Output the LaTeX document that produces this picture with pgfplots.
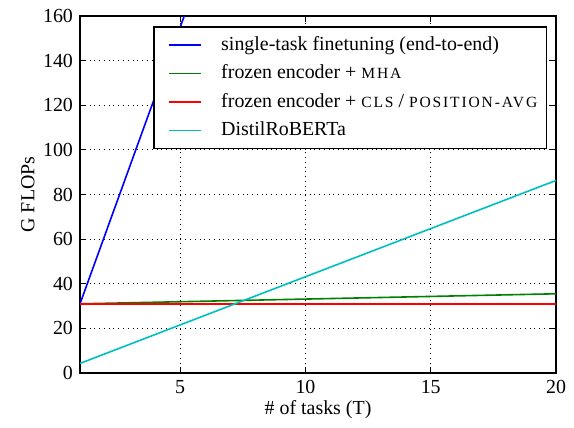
\documentclass[border=0pt]{standalone}
\usepackage{fontspec}
\setmainfont{Liberation Serif}
\newfontfamily\scfont[LetterSpace=12]{Liberation Serif}
\usepackage{pgfplots}
\pgfplotsset{compat=1.18}

\definecolor{mplblue}{rgb}{0,0,1}
\definecolor{mplgreen}{rgb}{0,0.5,0}
\definecolor{mplred}{rgb}{1,0,0}
\definecolor{mplcyan}{rgb}{0,0.75,0.75}

\newcommand{\fakesc}[1]{{\scfont\fontsize{7.8}{9}\selectfont #1}}

\begin{document}
\begin{tikzpicture}
\begin{axis}[
    scale only axis,
    width=238bp,
    height=178.5bp,
    xmin=1, xmax=20,
    ymin=0, ymax=160,
    xtick={5,10,15,20},
    ytick={0,20,40,60,80,100,120,140,160},
    tick pos=both,
    ticklabel pos=left,
    tick align=inside,
    major tick length=3bp,
    tick style={black, line width=0.5bp},
    axis line style={line width=0.75bp},
    grid=major,
    grid style={black, dotted, line width=0.5bp},
    /pgf/number format/assume math mode=true,
    xlabel={\# of tasks (T)},
    ylabel={G FLOPs},
    every axis x label/.style={at={(axis description cs:0.5,0)}, yshift=-18.5bp, anchor=center},
    every axis y label/.style={at={(axis description cs:0,0.5)}, xshift=-26bp, rotate=90, anchor=center},
    every axis plot/.append style={line width=0.8bp},
    legend cell align=left,
    legend style={
        at={(1,1)}, anchor=north east,
        xshift=-4.5bp, yshift=-5bp,
        draw=black, line width=0.75bp,
        inner xsep=2bp, inner ysep=2.8bp,
        row sep=1.8bp,
        font=\fontsize{10}{12}\selectfont,
        nodes={inner xsep=2.5bp},
    },
    legend image code/.code={
        \path[draw=none] (0bp,0bp) -- (29bp,0bp);
        \draw[#1] (5.5bp,0bp) -- (21.5bp,0bp);
    },
]
\addplot[mplblue] coordinates {(1,31) (20,620)};
\addlegendentry{single-task finetuning (end-to-end)}
\addplot[mplgreen] coordinates {(1,31) (20,35.5)};
\addlegendentry{frozen encoder + \fakesc{MHA}}
\addplot[mplred] coordinates {(1,31) (20,31)};
\addlegendentry{frozen encoder + \fakesc{CLS} / \fakesc{POSITION-AVG}}
\addplot[mplcyan] coordinates {(1,4.3) (20,86.3)};
\addlegendentry{DistilRoBERTa}
\end{axis}
\pgfresetboundingbox
\path[use as bounding box]
    ([xshift=-40bp,yshift=-27.5bp]current axis.south west)
    rectangle ([xshift=9bp,yshift=8bp]current axis.north east);
\end{tikzpicture}
\end{document}
